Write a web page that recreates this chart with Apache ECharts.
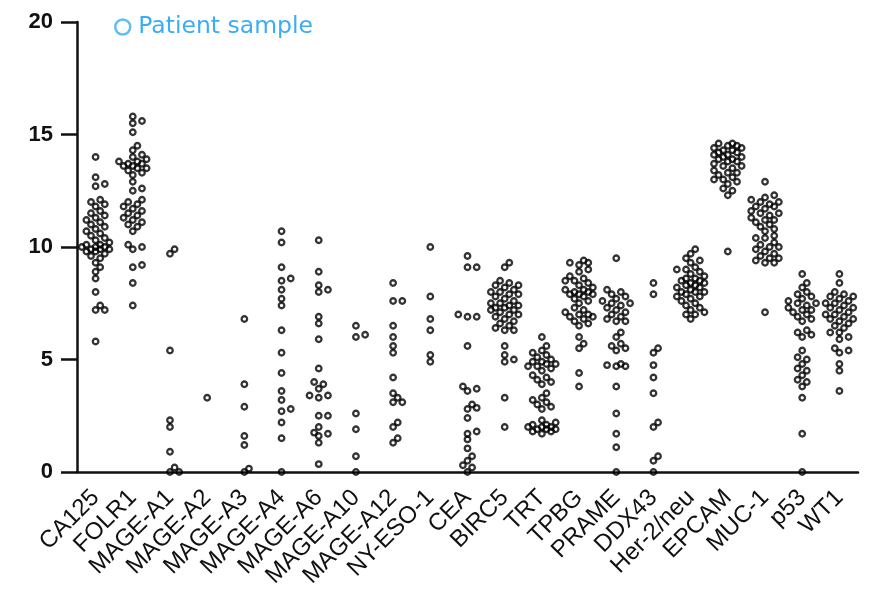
<!DOCTYPE html>
<html>
<head>
<meta charset="utf-8">
<script src="https://cdn.jsdelivr.net/npm/echarts@6/dist/echarts.min.js"></script>
<style>
  html, body { margin: 0; padding: 0; background: #fff; }
  #chart { width: 871px; height: 613px; }
</style>
</head>
<body>
<div id="chart"></div>
<script>
// antigen names on the x axis
var categories = ['CA125', 'FOLR1', 'MAGE-A1', 'MAGE-A2', 'MAGE-A3', 'MAGE-A4', 'MAGE-A6',
  'MAGE-A10', 'MAGE-A12', 'NY-ESO-1', 'CEA', 'BIRC5', 'TRT', 'TPBG', 'PRAME', 'DDX43',
  'Her-2/neu', 'EPCAM', 'MUC-1', 'p53', 'WT1'];
var yTicks = [0, 5, 10, 15, 20];

// values, one list per antigen
var ca125 = [14.0, 13.1, 12.8, 12.7, 12.1, 12.0, 11.9, 11.8, 11.6, 11.5, 11.4, 11.3, 11.2, 11.1, 11.0,
  10.9, 10.8, 10.7, 10.6, 10.5, 10.4, 10.3, 10.2, 10.1, 10.1, 10.0, 10.0, 10.0, 9.9, 9.9, 9.9, 9.8, 9.8,
  9.7, 9.6, 9.5, 9.3, 9.1, 8.9, 8.6, 8.0, 7.4, 7.2, 7.2, 5.8];
var folr1 = [15.8, 15.6, 15.5, 15.1, 14.5, 14.3, 14.1, 14.0, 13.9, 13.8, 13.8, 13.7, 13.7, 13.6, 13.6,
  13.5, 13.5, 13.4, 13.3, 13.2, 12.9, 12.6, 12.5, 12.1, 12.0, 11.9, 11.8, 11.7, 11.6, 11.5, 11.4, 11.3,
  11.2, 11.1, 11.0, 10.9, 10.7, 10.1, 10.0, 9.9, 9.2, 9.1, 8.4, 7.4];
var mageA1 = [9.9, 9.7, 5.4, 2.3, 2.0, 0.9, 0.2, 0, 0];
var mageA2 = [3.3];
var mageA3 = [6.8, 3.9, 2.9, 1.6, 1.2, 0.15, 0];
var mageA4 = [10.7, 10.2, 9.1, 8.6, 8.5, 8.1, 7.7, 7.4, 6.3, 5.3, 4.4, 3.6, 3.2, 2.8, 2.7, 2.2, 1.5, 0];
var mageA6 = [10.3, 8.9, 8.3, 8.1, 8.0, 6.9, 6.6, 5.9, 4.6, 4.0, 3.9, 3.7, 3.4, 3.4, 3.3, 2.5, 2.5,
  2.0, 1.75, 1.7, 1.6, 1.3, 0.35];
var mageA10 = [6.5, 6.1, 6.0, 2.6, 1.9, 0.7, 0];
var mageA12 = [8.4, 7.6, 7.6, 6.5, 6.0, 5.6, 5.3, 4.2, 3.5, 3.3, 3.1, 3.1, 2.2, 2.0, 1.5, 1.3];
var nyEso1 = [10.0, 7.8, 6.8, 6.3, 5.2, 4.9];
var cea = [9.6, 9.1, 9.1, 7.0, 6.9, 6.9, 5.6, 3.8, 3.7, 3.6, 3.0, 2.85, 2.8, 2.4, 1.8, 1.7, 1.45,
  1.05, 0.7, 0.5, 0.3, 0.2, 0];
var birc5 = [9.3, 9.1, 8.5, 8.4, 8.3, 8.3, 8.2, 8.1, 8.0, 8.0, 7.9, 7.9, 7.8, 7.7, 7.6, 7.5, 7.5, 7.4,
  7.4, 7.3, 7.3, 7.2, 7.2, 7.1, 7.0, 7.0, 6.9, 6.8, 6.7, 6.6, 6.5, 6.4, 6.3, 6.3, 5.6, 5.2, 5.0, 4.9,
  3.3, 2.0];
var trt = [6.0, 5.6, 5.4, 5.3, 5.2, 5.1, 5.0, 4.9, 4.9, 4.8, 4.8, 4.7, 4.7, 4.6, 4.5, 4.3, 4.2, 4.1,
  4.0, 3.9, 3.5, 3.3, 3.2, 3.1, 3.0, 2.9, 2.8, 2.3, 2.2, 2.1, 2.1, 2.0, 2.0, 2.0, 1.9, 1.9, 1.9, 1.8,
  1.8, 1.7];
var tpbg = [9.4, 9.3, 9.3, 9.2, 9.0, 8.9, 8.7, 8.6, 8.5, 8.5, 8.4, 8.3, 8.2, 8.1, 8.1, 8.0, 8.0, 7.9,
  7.9, 7.9, 7.8, 7.7, 7.6, 7.5, 7.3, 7.2, 7.1, 7.0, 7.0, 6.9, 6.9, 6.8, 6.7, 6.6, 6.5, 6.0, 5.7, 5.5,
  4.4, 3.8];
var prame = [9.5, 8.1, 8.0, 7.9, 7.8, 7.7, 7.6, 7.5, 7.5, 7.4, 7.3, 7.2, 7.1, 7.0, 6.9, 6.8, 6.7, 6.7,
  6.2, 6.0, 5.7, 5.6, 5.5, 5.4, 4.8, 4.75, 4.7, 4.7, 3.8, 2.6, 1.7, 1.1, 0];
var ddx43 = [8.4, 7.9, 5.5, 5.3, 4.75, 4.2, 3.5, 2.2, 2.0, 0.7, 0.5, 0];
var her2 = [9.9, 9.7, 9.5, 9.4, 9.3, 9.1, 9.0, 9.0, 8.9, 8.8, 8.7, 8.6, 8.6, 8.5, 8.5, 8.4, 8.4, 8.3,
  8.3, 8.2, 8.2, 8.1, 8.0, 8.0, 8.0, 7.9, 7.8, 7.8, 7.7, 7.6, 7.5, 7.4, 7.3, 7.2, 7.1, 7.0, 7.0, 6.8];
var epcam = [14.6, 14.6, 14.5, 14.5, 14.4, 14.4, 14.3, 14.3, 14.2, 14.2, 14.1, 14.1, 14.0, 14.0, 13.9,
  13.9, 13.8, 13.8, 13.7, 13.6, 13.6, 13.5, 13.4, 13.3, 13.3, 13.2, 13.1, 13.0, 13.0, 12.9, 12.8,
  12.6, 12.5, 12.3, 9.8];
var muc1 = [12.9, 12.3, 12.2, 12.1, 12.0, 12.0, 11.9, 11.8, 11.8, 11.7, 11.6, 11.5, 11.5, 11.4, 11.3,
  11.2, 11.2, 11.1, 11.0, 10.9, 10.8, 10.7, 10.5, 10.4, 10.4, 10.2, 10.1, 10.0, 10.0, 9.9, 9.8, 9.7,
  9.6, 9.5, 9.5, 9.4, 9.3, 9.3, 7.1];
var p53 = [8.8, 8.4, 8.2, 8.0, 7.9, 7.8, 7.7, 7.6, 7.5, 7.5, 7.4, 7.3, 7.2, 7.2, 7.1, 7.0, 6.9, 6.8,
  6.7, 6.3, 6.2, 6.1, 6.0, 5.4, 5.1, 5.0, 4.8, 4.6, 4.5, 4.3, 4.1, 4.0, 3.8, 3.3, 1.7, 0];
var wt1 = [8.8, 8.4, 8.0, 7.9, 7.8, 7.8, 7.7, 7.6, 7.5, 7.5, 7.4, 7.3, 7.3, 7.2, 7.1, 7.0, 7.0, 6.9,
  6.8, 6.8, 6.7, 6.6, 6.5, 6.4, 6.2, 6.2, 6.0, 5.9, 5.5, 5.4, 5.3, 4.8, 4.5, 3.6];

var groups = [ca125, folr1, mageA1, mageA2, mageA3, mageA4, mageA6, mageA10, mageA12, nyEso1,
  cea, birc5, trt, tpbg, prame, ddx43, her2, epcam, muc1, p53, wt1];

var chart = echarts.init(document.getElementById('chart'));
var blue = '#3badf5';

var option = {
  animation: false,
  backgroundColor: '#fff',
  grid: { left: 77, right: 13, top: 22, bottom: 141, containLabel: false },
  legend: {
    left: 109,
    top: 10,
    itemWidth: 15,
    itemHeight: 15,
    icon: 'circle',
    data: [{
      name: 'Patient sample',
      itemStyle: { color: 'rgba(0,0,0,0)', borderColor: blue, borderWidth: 2.5 }
    }],
    textStyle: { color: blue, fontSize: 23.5, fontFamily: 'DejaVu Sans', padding: [0, 0, 0, 3] }
  },
  xAxis: [
    {
      type: 'category',
      data: categories,
      boundaryGap: true,
      axisLine: { lineStyle: { color: '#111', width: 2.5 } },
      axisTick: { alignWithLabel: true, interval: 0, length: 16, lineStyle: { color: '#111', width: 2.5 } },
      axisLabel: {
        interval: 0,
        rotate: 45,
        margin: 22,
        color: '#111',
        fontSize: 24,
        fontFamily: 'Liberation Sans'
      },
      splitLine: { show: false }
    },
    {
      type: 'value',
      min: -0.5,
      max: categories.length - 0.5,
      show: false
    }
  ],
  yAxis: {
    type: 'value',
    min: yTicks[0],
    max: yTicks[yTicks.length - 1],
    interval: 5,
    axisLine: { show: true, onZero: false, lineStyle: { color: '#111', width: 2.5 } },
    axisTick: { show: true, length: 16, lineStyle: { color: '#111', width: 2.5 } },
    axisLabel: {
      margin: 24,
      color: '#111',
      fontSize: 22,
      fontWeight: 'bold',
      fontFamily: 'Liberation Sans'
    },
    splitLine: { show: false }
  },
  series: [{
    name: 'Patient sample',
    type: 'scatter',
    xAxisIndex: 1,
    clip: false,
    symbol: 'circle',
    symbolSize: 5.5,
    itemStyle: { color: 'rgba(0,0,0,0)', borderColor: '#000', borderWidth: 2.3 },
    data: []
  }]
};
chart.setOption(option);

// beeswarm: spread points sideways within a capped width; dense spots overlap like the original
var pxX = Math.abs(chart.convertToPixel({ xAxisIndex: 1 }, 1) - chart.convertToPixel({ xAxisIndex: 1 }, 0));
var pxY = Math.abs(chart.convertToPixel({ yAxisIndex: 0 }, 1) - chart.convertToPixel({ yAxisIndex: 0 }, 0));
var gap = 5.6;
var step = 4.6;
var maxK = 3;

function swarm(vals, idx) {
  var sorted = vals.slice().sort(function (a, b) { return a - b; });
  var placed = [];
  var out = [];
  sorted.forEach(function (v) {
    var py = v * pxY;
    var best = 0, bestD = -1;
    for (var s = 0; s <= maxK * 2; s++) {
      var k = s === 0 ? 0 : (s % 2 ? (s + 1) / 2 : -s / 2);
      var px = k * step;
      var minD = Infinity;
      placed.forEach(function (p) {
        var dx = p[0] - px, dy = p[1] - py;
        minD = Math.min(minD, Math.sqrt(dx * dx + dy * dy));
      });
      if (minD >= gap) { best = px; bestD = minD; break; }
      if (minD > bestD + 0.5) { best = px; bestD = minD; }
    }
    placed.push([best, py]);
    out.push([idx + best / pxX, v]);
  });
  return out;
}

var points = [];
groups.forEach(function (g, i) {
  points = points.concat(swarm(g, i));
});
chart.setOption({ series: [{ data: points }] });
</script>
</body>
</html>
